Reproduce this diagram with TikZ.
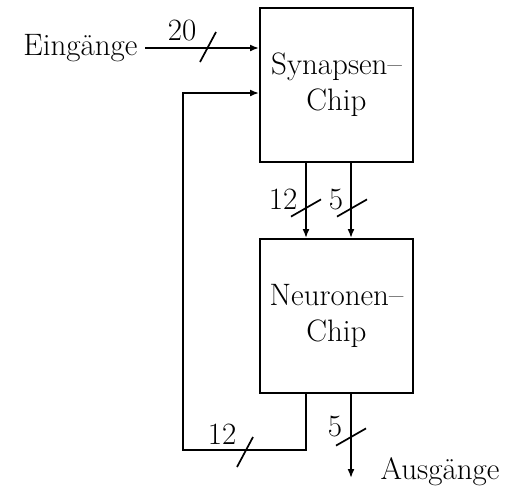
\documentclass[tikz,border=0pt]{standalone}
\usepackage{tikz}
\usetikzlibrary{positioning,calc,arrows.meta}

\begin{document}
\begin{tikzpicture}[
      x=0.5pt, y=-0.5pt,
      >={Latex[length=4.5pt,width=3.5pt]}, line width=0.85pt,
      font=\fontsize{15.5}{18}\selectfont,
      chip/.style={draw,line width=1pt,minimum width=76.5pt,minimum height=77pt,align=center,inner sep=0pt},
      wert/.style={inner sep=0pt},
      hbus/.pic={\draw (-4pt,-7.5pt) -- (4pt,7.5pt);},
      vbus/.pic={\draw (-7.5pt,-4.3pt) -- (7.5pt,4.3pt);},
    ]
  \useasboundingbox (0,0) rectangle (508,488);
  \node[chip] (syn) at (336.5,85) {Synapsen--\\Chip};
  \node[chip, below=37.5pt of syn] (neu) {Neuronen--\\Chip};
  \node[anchor=east] (ein) at (145,48) {Eingänge};
  \node (ausg) at (440,472) {Ausgänge};
  \coordinate (ka) at (306,0);
  \coordinate (kb) at (351,0);
  \coordinate (rueck) at (183,450);
  \coordinate (fb) at (183,93);
  \coordinate (aus) at (351,478);
  % Eingang
  \draw[->] (ein) -- (ein -| syn.west);
  \pic at (208,47) {hbus};
  \node[wert] (n20) at (182,30) {20};
  % Synapsen -> Neuronen
  \draw[->] (ka |- syn.south) -- (ka |- neu.north);
  \draw[->] (kb |- syn.south) -- (kb |- neu.north);
  \pic at (306,208) {vbus};
  \pic at (352,208) {vbus};
  \node[wert] (n12a) at (283,199) {12};
  \node[wert] (n5a) at (336,200) {5};
  % Rueckkopplung
  \draw[->] (ka |- neu.south) |- (rueck) -- (fb) -- (fb -| syn.west);
  \pic at (245,452) {hbus};
  \node[wert] (n12b) at (222,434) {12};
  % Ausgang
  \draw[->] (kb |- neu.south) -- (aus);
  \pic at (351,437) {vbus};
  \node[wert] (n5b) at (335,427) {5};
\end{tikzpicture}
\end{document}
